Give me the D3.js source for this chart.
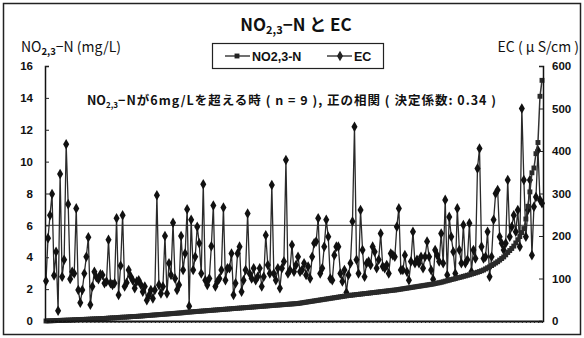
<!DOCTYPE html>
<html>
<head>
<meta charset="utf-8">
<script src="https://cdn.jsdelivr.net/npm/d3@7"></script>
<style>
  html, body { margin: 0; padding: 0; background: #fff; }
  svg { display: block; }
  text { font-family: "Liberation Sans", Arial, sans-serif; fill: #111; }
  .jp { font-family: "Noto Sans CJK JP", "Liberation Sans", sans-serif; }
</style>
</head>
<body>
<svg id="chart" width="584" height="338"></svg>
<script>
// ---- data ----
const no23n = [
  0.00,0.01,0.01,0.02,0.02,0.03,0.03,0.04,0.04,0.05,
  0.05,0.06,0.06,0.07,0.08,0.08,0.09,0.09,0.10,0.10,
  0.11,0.11,0.12,0.13,0.13,0.14,0.14,0.15,0.16,0.16,
  0.17,0.18,0.19,0.20,0.20,0.21,0.22,0.23,0.24,0.24,
  0.25,0.26,0.27,0.28,0.28,0.29,0.30,0.31,0.32,0.33,
  0.34,0.35,0.36,0.37,0.38,0.39,0.40,0.41,0.42,0.43,
  0.44,0.45,0.46,0.47,0.48,0.49,0.50,0.51,0.52,0.54,
  0.55,0.56,0.57,0.58,0.59,0.60,0.61,0.62,0.63,0.64,
  0.65,0.66,0.67,0.68,0.69,0.70,0.71,0.72,0.73,0.74,
  0.75,0.76,0.77,0.78,0.79,0.80,0.81,0.82,0.83,0.84,
  0.85,0.86,0.87,0.88,0.89,0.90,0.91,0.92,0.93,0.94,
  0.95,0.96,0.97,0.98,0.99,1.00,1.01,1.02,1.03,1.04,
  1.05,1.06,1.07,1.08,1.09,1.10,1.12,1.14,1.16,1.18,
  1.20,1.22,1.24,1.26,1.28,1.30,1.32,1.34,1.36,1.38,
  1.40,1.42,1.44,1.46,1.48,1.50,1.52,1.54,1.56,1.58,
  1.60,1.61,1.63,1.64,1.66,1.67,1.69,1.70,1.72,1.73,
  1.75,1.76,1.78,1.79,1.81,1.82,1.84,1.85,1.87,1.88,
  1.90,1.91,1.93,1.94,1.96,1.98,2.00,2.02,2.04,2.06,
  2.08,2.10,2.12,2.14,2.16,2.18,2.20,2.22,2.24,2.26,
  2.28,2.30,2.32,2.35,2.38,2.40,2.43,2.46,2.50,2.53,
  2.56,2.60,2.63,2.66,2.70,2.73,2.76,2.80,2.83,2.87,
  2.90,2.94,2.98,3.02,3.06,3.10,3.15,3.20,3.27,3.34,
  3.40,3.48,3.56,3.64,3.72,3.82,3.92,4.02,4.15,4.30,
  4.42,4.55,4.70,4.90,5.10,5.30,5.55,5.80,6.40,7.20,
  8.10,9.30,9.60,10.50,11.20,14.10,15.10
];
const ec = [
  94,195,249,299,107,163,24,346,104,144,
  416,275,99,116,112,265,73,43,73,112,
  151,197,38,81,116,103,98,110,108,89,
  93,191,89,85,89,242,61,130,249,81,
  90,120,105,96,77,93,96,86,69,81,
  49,60,73,53,73,296,85,65,81,200,
  65,136,108,231,100,73,85,200,120,159,
  263,35,238,120,151,222,183,112,322,96,
  85,100,176,272,81,93,100,120,267,96,
  124,124,159,61,89,159,175,69,96,120,
  253,112,100,124,96,104,124,81,104,202,
  132,112,320,112,96,124,77,124,140,379,
  112,120,179,116,132,151,116,120,136,108,
  128,100,151,183,187,242,112,124,175,238,
  198,100,96,155,175,175,112,93,120,67,
  108,136,234,457,144,112,261,167,104,136,
  140,132,175,163,124,144,206,128,124,132,
  112,159,155,151,222,265,120,120,155,116,
  96,140,210,136,144,136,151,124,151,187,
  151,120,98,167,155,140,206,136,285,108,
  245,198,163,112,265,167,136,226,136,144,
  230,116,167,147,359,406,175,147,151,210,
  104,151,238,300,308,198,183,167,183,332,
  198,222,249,210,261,175,500,332,198,261,
  332,155,269,292,402,285,277
];
const leftTicks = [0, 2, 4, 6, 8, 10, 12, 14, 16];
const rightTicks = [0, 100, 200, 300, 400, 500, 600];
const thresholdNO = 6;
const samples = ec.map((d, i) => i + 1);

// ---- layout ----
const svg = d3.select("#chart");
const plot = { left: 45, right: 543, top: 66, bottom: 321 };

const x = d3.scalePoint().domain(samples).range([plot.left + 1, plot.right - 1]);
const yL = d3.scaleLinear().domain([0, 16]).range([plot.bottom, plot.top]);
const yR = d3.scaleLinear().domain([0, 600]).range([plot.bottom, plot.top]);

// outer frame
svg.append("rect").attr("x", 3.5).attr("y", 3.5).attr("width", 577).attr("height", 331)
  .attr("fill", "#fff").attr("stroke", "#222").attr("stroke-width", 1.5);

// threshold line at 6 mg/L
svg.append("line")
  .attr("x1", plot.left).attr("x2", plot.right)
  .attr("y1", yL(thresholdNO)).attr("y2", yL(thresholdNO))
  .attr("stroke", "#555").attr("stroke-width", 1.2);

// EC series (right axis)
const ecLine = d3.line().x((d, i) => x(samples[i])).y(d => yR(d));
svg.append("path").datum(ec).attr("d", ecLine)
  .attr("fill", "none").attr("stroke", "#2a2a2a").attr("stroke-width", 1.3);
const diamond = d3.symbol().type(d3.symbolDiamond).size(32);
svg.append("g").selectAll("path").data(ec).join("path")
  .attr("d", diamond)
  .attr("transform", (d, i) => `translate(${x(samples[i])},${yR(d)})`)
  .attr("fill", "#111");

// NO2,3-N series (left axis)
const noLine = d3.line().x((d, i) => x(samples[i])).y(d => yL(d));
svg.append("path").datum(no23n).attr("d", noLine)
  .attr("fill", "none").attr("stroke", "#333").attr("stroke-width", 1.5);
const square = d3.symbol().type(d3.symbolSquare).size(24);
svg.append("g").selectAll("path").data(no23n).join("path")
  .attr("d", square)
  .attr("transform", (d, i) => `translate(${x(samples[i])},${yL(d)})`)
  .attr("fill", "#2a2a2a");

// axes
const axL = svg.append("g").attr("transform", `translate(${plot.left},0)`)
  .call(d3.axisRight(yL).tickValues(leftTicks).tickSize(4).tickFormat(""));
const axR = svg.append("g").attr("transform", `translate(${plot.right},0)`)
  .call(d3.axisLeft(yR).tickValues(rightTicks).tickSize(4).tickFormat(""));
const axB = svg.append("g").attr("transform", `translate(0,${plot.bottom})`)
  .call(d3.axisBottom(x).tickValues(samples.filter((d, i) => i % 2 === 0)).tickSize(2).tickSizeOuter(0).tickFormat(""));
[axL, axR, axB].forEach(a => {
  a.selectAll("path").attr("stroke", "#111").attr("stroke-width", 1.5);
  a.selectAll("line").attr("stroke", "#222");
});
axB.selectAll("path").attr("stroke-width", 2.2);

// tick labels
svg.append("g").selectAll("text").data(leftTicks).join("text")
  .attr("x", 33).attr("y", d => yL(d)).attr("dy", "0.36em")
  .attr("text-anchor", "end").attr("font-size", 11.5).attr("font-weight", "bold")
  .text(d => d);
svg.append("g").selectAll("text").data(rightTicks).join("text")
  .attr("x", 552).attr("y", d => yR(d)).attr("dy", "0.36em")
  .attr("text-anchor", "start").attr("font-size", 11.5).attr("font-weight", "bold")
  .text(d => d);

// title
const title = svg.append("text").attr("class", "jp")
  .attr("x", 296).attr("y", 31).attr("text-anchor", "middle")
  .attr("font-size", 17).attr("font-weight", "bold");
title.append("tspan").text("NO");
title.append("tspan").attr("dy", 3).attr("font-size", 11).text("2,3");
title.append("tspan").attr("dy", -3).text("−N と EC");

// axis titles
const lt = svg.append("text").attr("class", "jp").attr("x", 21).attr("y", 52)
  .attr("font-size", 14);
lt.append("tspan").text("NO");
lt.append("tspan").attr("dy", 3).attr("font-size", 9.5).attr("font-weight", "bold").text("2,3");
lt.append("tspan").attr("dy", -3).text("−N (mg/L)");

svg.append("text").attr("class", "jp").attr("x", 579).attr("y", 52)
  .attr("text-anchor", "end").attr("font-size", 14)
  .text("EC ( μ S/cm )");

// legend
const lg = svg.append("g");
lg.append("rect").attr("x", 212.5).attr("y", 43.5).attr("width", 171).attr("height", 25)
  .attr("fill", "#fff").attr("stroke", "#222").attr("stroke-width", 1.2);
lg.append("line").attr("x1", 225).attr("x2", 250).attr("y1", 56).attr("y2", 56).attr("stroke", "#222").attr("stroke-width", 1.3);
lg.append("path").attr("d", square).attr("transform", "translate(237,56)").attr("fill", "#222");
lg.append("text").attr("x", 252).attr("y", 56).attr("dy", "0.36em")
  .attr("font-size", 12.5).attr("font-weight", "bold").text("NO2,3-N");
lg.append("line").attr("x1", 327).attr("x2", 352).attr("y1", 56).attr("y2", 56).attr("stroke", "#222").attr("stroke-width", 1.3);
lg.append("path").attr("d", diamond).attr("transform", "translate(340,56)").attr("fill", "#222");
lg.append("text").attr("x", 354).attr("y", 56).attr("dy", "0.36em")
  .attr("font-size", 12.5).attr("font-weight", "bold").text("EC");

// annotation
const an = svg.append("text").attr("class", "jp")
  .attr("x", 87).attr("y", 105).attr("font-size", 12.5).attr("font-weight", "bold");
an.append("tspan").text("NO");
an.append("tspan").attr("dy", 3).attr("font-size", 8).text("2,3");
an.append("tspan").attr("dy", -3)
  .attr("textLength", 378).attr("lengthAdjust", "spacing")
  .text("−Nが6mg/Lを超える時 ( n = 9 ),  正の相関 ( 決定係数:  0.34 )");
</script>
</body>
</html>
